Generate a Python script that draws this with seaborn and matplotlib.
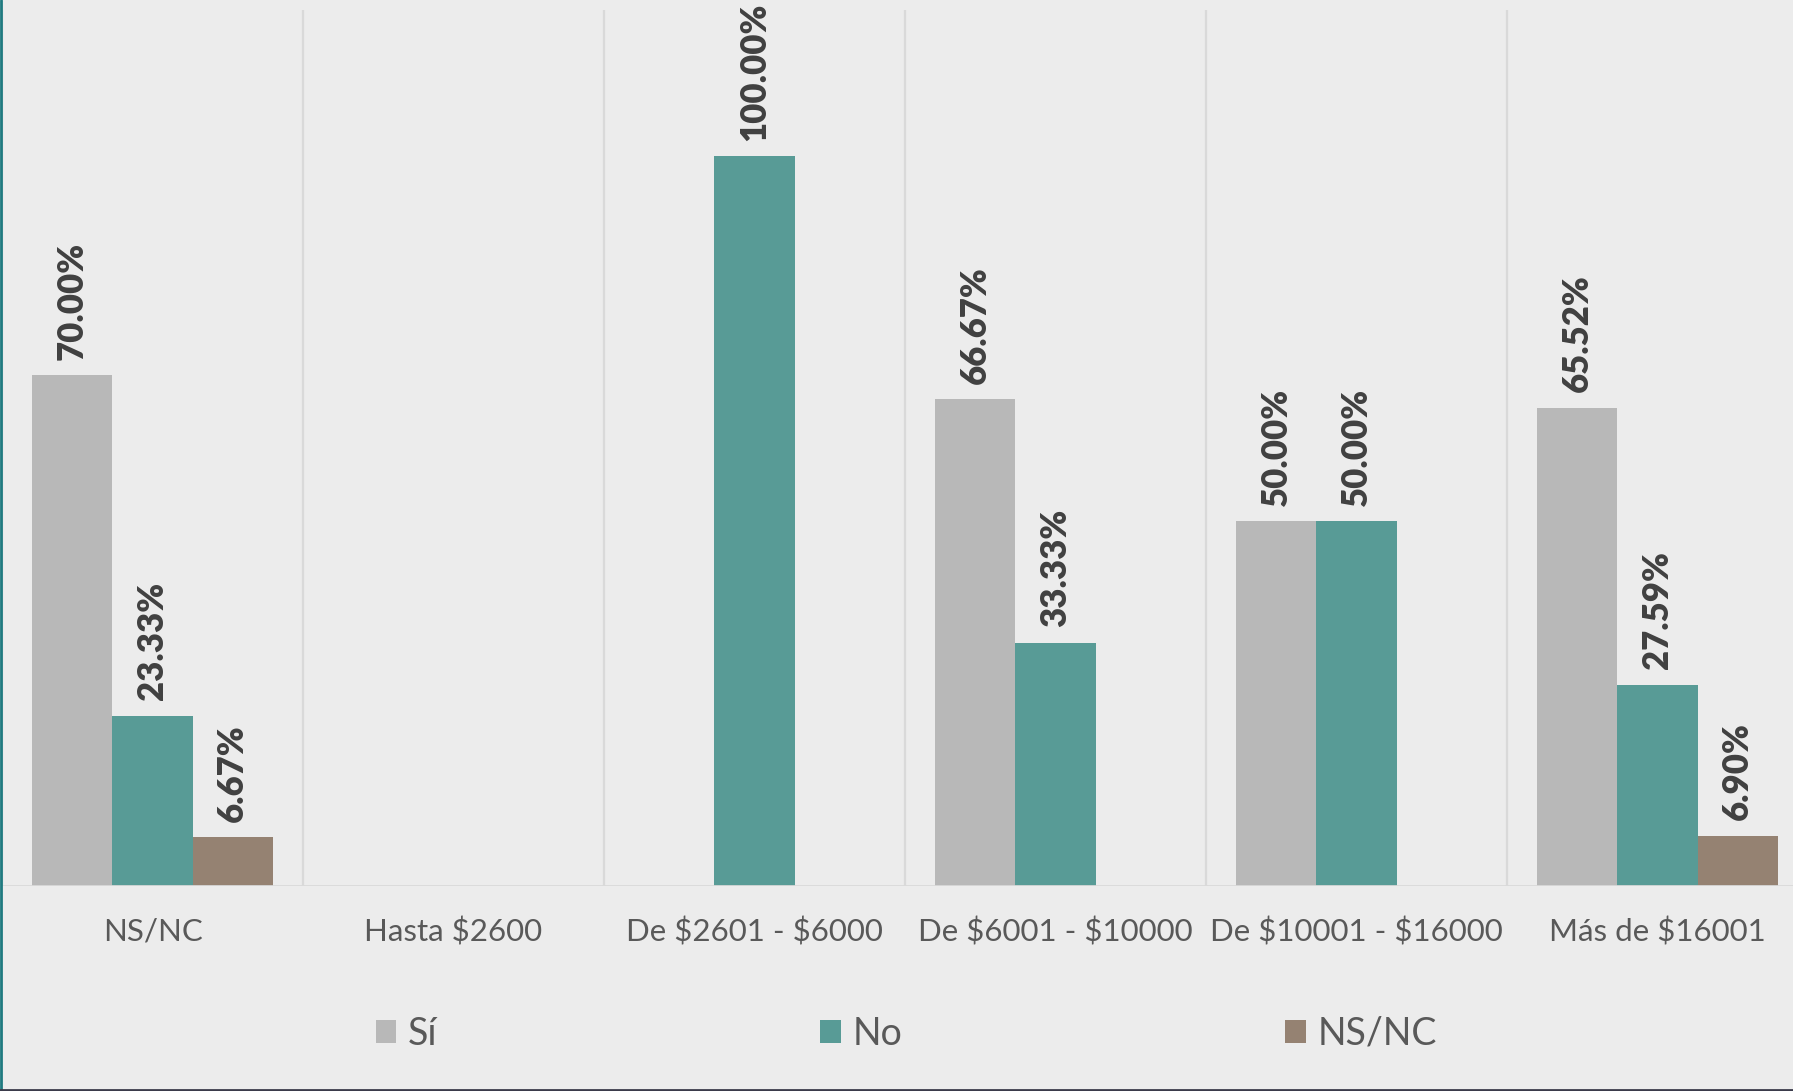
import matplotlib
matplotlib.use('Agg')
import pandas as pd
import matplotlib.pyplot as plt
import seaborn as sns
from matplotlib.patches import Patch
from matplotlib.lines import Line2D

# datos
categorias = ['NS/NC', 'Hasta $2600', 'De $2601 - $6000', 'De $6001 - $10000',
              'De $10001 - $16000', 'Más de $16001']
series = ['Sí', 'No', 'NS/NC']
si = [70.00, None, None, 66.67, 50.00, 65.52]
no = [23.33, None, 100.00, 33.33, 50.00, 27.59]
nsnc = [6.67, None, None, None, None, 6.90]
colores = ['#B8B8B8', '#589B96', '#958272']

filas = []
for serie, valores in zip(series, [si, no, nsnc]):
    for cat, v in zip(categorias, valores):
        if v is not None:
            filas.append({'categoria': cat, 'serie': serie, 'valor': v})
df = pd.DataFrame(filas)

# estilo
sns.set_style('white')
plt.rcParams['font.family'] = ['Lato', 'DejaVu Sans']
plt.rcParams['text.parse_math'] = False
fondo = '#ECECEC'

fig = plt.figure(figsize=(17.93, 10.91), dpi=100, facecolor=fondo)
ax = fig.add_axes([2 / 1793, 205 / 1091, 1806 / 1793, 876 / 1091])
ax.set_facecolor(fondo)

sns.barplot(data=df, x='categoria', y='valor', hue='serie', order=categorias,
            hue_order=series, palette=colores, saturation=1, width=0.8,
            linewidth=0, legend=False, ax=ax)

for c in ax.containers:
    ax.bar_label(c, fmt='%.2f%%', rotation=90, padding=11, fontsize=25,
                 fontweight='heavy', color='#404040')

ax.set_xlim(-0.5, 5.5)
ax.set_ylim(0, 120)
ax.set_yticks([])
ax.set_xlabel('')
ax.set_ylabel('')
for s in ax.spines.values():
    s.set_visible(False)

# separadores verticales y linea base
for b in range(6):
    ax.axvline(b - 0.5, color='#D9D9D9', lw=1.6, zorder=0)
ax.axhline(0, color='#D9D9D9', lw=2, zorder=3)

ax.tick_params(axis='x', length=0, pad=23, labelsize=22.5, labelcolor='#595959')

# leyenda
handles = [Patch(facecolor=col, edgecolor='none', label=s) for s, col in zip(series, colores)]
fig.legend(handles=handles, loc='center', bbox_to_anchor=(0.5055, 1 - 1034 / 1091),
           ncol=3, frameon=False, fontsize=27, handlelength=0.55, handleheight=0.55,
           handletextpad=0.32, columnspacing=10.2, labelcolor='#595959')

# bordes
fig.add_artist(Line2D([0.0008, 0.0008], [0, 1], transform=fig.transFigure,
                      color='#1F7A80', lw=2))
fig.add_artist(Line2D([0, 1], [0.0006, 0.0006], transform=fig.transFigure,
                      color='#3B3B4B', lw=2))

fig.savefig('out.png', dpi=100, facecolor=fondo)
